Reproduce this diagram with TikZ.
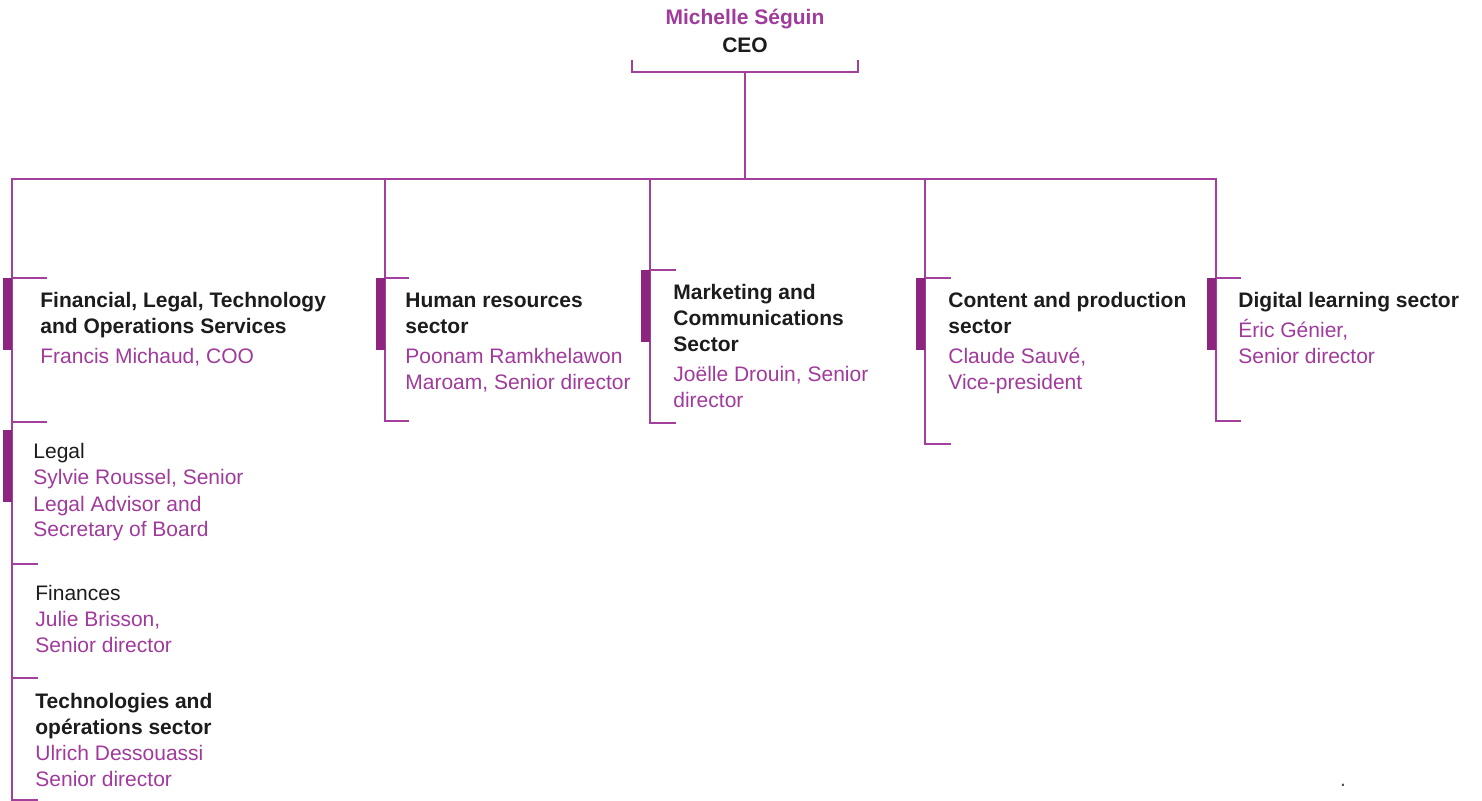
\documentclass[tikz,border=0pt]{standalone}
\usepackage{fontspec}
\setmainfont{Liberation Sans}
\usepackage{tikz}

\definecolor{linec}{RGB}{163,64,158}
\definecolor{barc}{RGB}{140,36,128}
\definecolor{namec}{RGB}{160,58,155}
\definecolor{headc}{RGB}{28,28,28}

% one line of a unit title, and one line of the person in charge
\newcommand\hd[1]{{\bfseries\color{headc}#1}}
\newcommand\sub[1]{{\color{headc}#1}}
\newcommand\who[1]{{\color{namec}#1}}

% units sit on the baseline of their last line
\tikzset{
  unit/.style={anchor=base west, align=left, inner sep=0pt,
    font=\fontsize{10.5}{13}\selectfont},
  wire/.style={draw=linec, line width=1pt},
  bar/.style={fill=barc},
}

\begin{document}
\begin{tikzpicture}[x=0.5pt, y=-0.5pt]
  \useasboundingbox (0,0) rectangle (1482,801);

  % head of the chart
  \node[unit, anchor=base, align=center] (ceo) at (745,53)
    {\hd{\color{namec}Michelle Séguin}\\[1pt]\hd{CEO}};
  \coordinate (ceo stem) at (745,72);
  \coordinate (hub) at (745,179);
  \draw[wire] (632,60) |- (858,72) -- (858,60);
  \draw[wire] (ceo stem) -- (hub);

  % sectors
  \node[unit] (fin) at (40,364)
    {\hd{Financial, Legal, Technology}\\\hd{and Operations Services}\\[2pt]
     \who{Francis Michaud, COO}};
  \node[unit] (hr) at (405,390)
    {\hd{Human resources}\\\hd{sector}\\[2pt]
     \who{Poonam Ramkhelawon}\\\who{Maroam, Senior director}};
  \node[unit] (mkt) at (673,408)
    {\hd{Marketing and}\\\hd{Communications}\\\hd{Sector}\\[2pt]
     \who{Joëlle Drouin, Senior}\\\who{director}};
  \node[unit] (cnt) at (948,390)
    {\hd{Content and production}\\\hd{sector}\\[2pt]
     \who{Claude Sauvé,}\\\who{Vice-president}};
  \node[unit] (dig) at (1238,364)
    {\hd{Digital learning sector}\\[2pt]
     \who{Éric Génier,}\\\who{Senior director}};

  % units under the COO
  \node[unit] (legal) at (33,537)
    {\sub{Legal}\\\who{Sylvie Roussel, Senior}\\\who{Legal Advisor and}\\
     \who{Secretary of Board}};
  \node[unit] (money) at (35,652)
    {\sub{Finances}\\\who{Julie Brisson,}\\\who{Senior director}};
  \node[unit] (tech) at (35,786)
    {\hd{Technologies and}\\\hd{opérations sector}\\
     \who{Ulrich Dessouassi}\\\who{Senior director}};

  \node[anchor=base, inner sep=0pt, text=black!70,
    font=\fontsize{10.5}{13}\selectfont] (dot) at (1343,786) {.};

  % brackets of the sectors
  \coordinate (fin top) at (12,278);
  \coordinate (hr top) at (385,278);
  \coordinate (mkt top) at (650,270);
  \coordinate (cnt top) at (925,278);
  \coordinate (dig top) at (1216,278);

  \draw[wire] (hub) -| (fin top);
  \draw[wire] (hub) -| (hr top);
  \draw[wire] (hub) -| (mkt top);
  \draw[wire] (hub) -| (cnt top);
  \draw[wire] (hub) -| (dig top);

  \draw[wire] (fin top) -- ++(35,0);
  \draw[wire] (fin top) -- (12,800) -- ++(26,0);
  \fill[bar] (fin top) rectangle ++(-9,72);
  \draw[wire] (12,422) -- ++(35,0);
  \fill[bar] (12,430) rectangle ++(-9,72);
  \draw[wire] (12,564) -- ++(26,0);
  \draw[wire] (12,678) -- ++(26,0);

  \draw[wire] (hr top) -- ++(24,0);
  \draw[wire] (hr top) -- (385,421) -- ++(24,0);
  \fill[bar] (hr top) rectangle ++(-9,72);

  \draw[wire] (mkt top) -- ++(26,0);
  \draw[wire] (mkt top) -- (650,423) -- ++(26,0);
  \fill[bar] (mkt top) rectangle ++(-9,72);

  \draw[wire] (cnt top) -- ++(26,0);
  \draw[wire] (cnt top) -- (925,444) -- ++(26,0);
  \fill[bar] (cnt top) rectangle ++(-9,72);

  \draw[wire] (dig top) -- ++(25,0);
  \draw[wire] (dig top) -- (1216,421) -- ++(25,0);
  \fill[bar] (dig top) rectangle ++(-9,72);
\end{tikzpicture}
\end{document}
